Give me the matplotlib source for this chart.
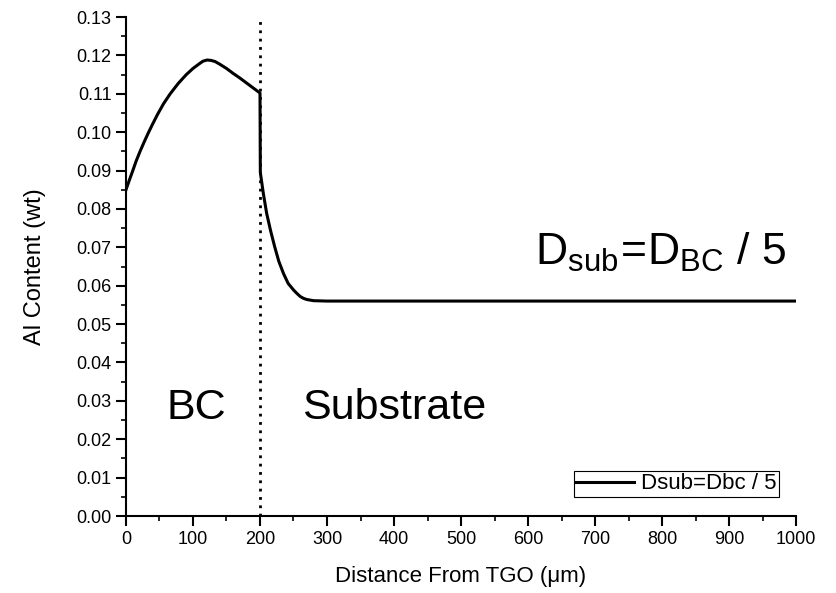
import matplotlib
matplotlib.use("Agg")
import matplotlib.pyplot as plt

plt.rcParams['font.family'] = ['Liberation Sans', 'DejaVu Sans']
plt.rcParams['mathtext.fontset'] = 'custom'
plt.rcParams['mathtext.rm'] = 'Liberation Sans'
plt.rcParams['mathtext.it'] = 'Liberation Sans'

# Bond coat region (distance in um, Al content wt)
x_bc = [0, 5, 10, 15, 21, 27, 33, 40, 47, 56, 66, 78, 90, 100, 110, 115, 121, 127, 133, 140, 150, 160, 170, 180, 190, 200]
y_bc = [0.0850, 0.0875, 0.0899, 0.0924, 0.0950, 0.0974, 0.0997, 0.1022, 0.1046, 0.1074, 0.1100, 0.1127,
        0.1150, 0.1166, 0.1179, 0.1185, 0.1188, 0.1187, 0.1184, 0.1177, 0.1166, 0.1153, 0.1141, 0.1128,
        0.1115, 0.1102]
# Substrate region
x_sub = [200, 200.5, 205, 210, 216, 222, 228, 235, 242, 250, 255, 260, 265, 270, 280, 300, 1000]
y_sub = [0.1102, 0.0895, 0.0840, 0.0788, 0.0742, 0.0701, 0.0664, 0.0632, 0.0606, 0.0589, 0.0580,
         0.0572, 0.0567, 0.0564, 0.0561, 0.0560, 0.0560]

x_all = x_bc + x_sub[1:]
y_all = y_bc + y_sub[1:]

interface_x = 200
x_ticks = [0, 100, 200, 300, 400, 500, 600, 700, 800, 900, 1000]
y_ticks = [0.00, 0.01, 0.02, 0.03, 0.04, 0.05, 0.06, 0.07, 0.08, 0.09, 0.10, 0.11, 0.12, 0.13]

fig = plt.figure(figsize=(8.36, 5.93), dpi=100)
ax = fig.add_axes([0.1507, 0.1298, 0.8015, 0.8415])

ax.plot(x_all, y_all, color='black', lw=2.2, label='Dsub=Dbc / 5', solid_joinstyle='round')
ax.plot([interface_x, interface_x], [0, 0.13], color='black', lw=2.0, linestyle=(0, (1, 2)))

ax.set_xlim(0, 1000)
ax.set_ylim(0, 0.13)
ax.set_xticks(x_ticks)
ax.set_yticks(y_ticks)
ax.set_xticklabels([str(v) for v in x_ticks])
ax.set_yticklabels([f"{v:.2f}" for v in y_ticks])
ax.set_xticks([50 + 100 * i for i in range(10)], minor=True)
ax.set_yticks([0.005 + 0.01 * i for i in range(13)], minor=True)

for s in ['top', 'right']:
    ax.spines[s].set_visible(False)
for s in ['left', 'bottom']:
    ax.spines[s].set_linewidth(1.5)
ax.tick_params(which='major', direction='out', length=7, width=1.5, labelsize=13)
ax.tick_params(axis='x', which='major', pad=4)
ax.tick_params(axis='y', which='major', pad=3.5)
ax.tick_params(which='minor', direction='out', length=3.8, width=1.2)

ax.set_xlabel('Distance From TGO (\u03bcm)', fontsize=16)
ax.set_ylabel('Al Content (wt)', fontsize=17)
ax.xaxis.set_label_coords(0.5, -0.100)
ax.yaxis.set_label_coords(-0.120, 0.5)

ax.text(61, 0.0253, 'BC', fontsize=31)
ax.text(263, 0.0253, 'Substrate', fontsize=31)
ax.text(610, 0.0654, r'$\mathregular{D_{sub}\!=\!D_{BC}\ /\ 5}$', fontsize=32)

leg = ax.legend(loc='lower right', bbox_to_anchor=(0.9746, 0.038), fontsize=16,
                frameon=True, fancybox=False, edgecolor='black', framealpha=1,
                handlelength=2.6, handletextpad=0.3, borderpad=0.12, borderaxespad=0)
leg.get_frame().set_linewidth(0.8)

fig.savefig('out.png', dpi=100)
